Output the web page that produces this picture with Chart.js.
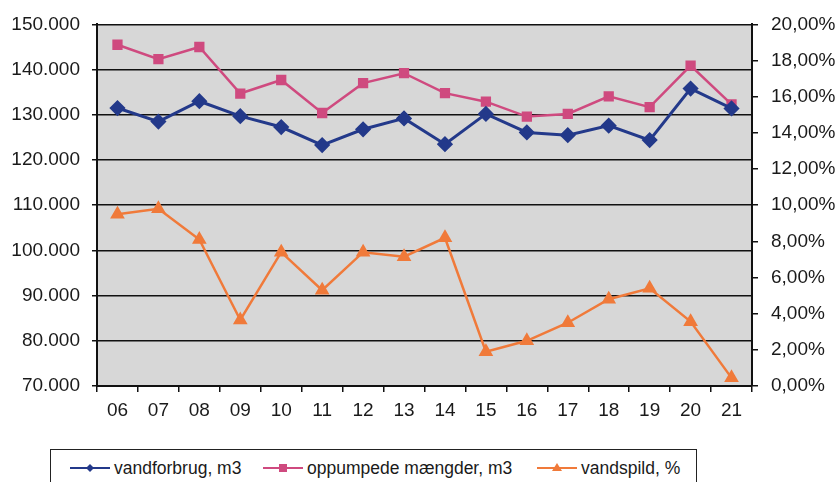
<!DOCTYPE html>
<html>
<head>
<meta charset="utf-8">
<script src="https://cdn.jsdelivr.net/npm/chart.js@4/dist/chart.umd.min.js"></script>
<style>
  html, body { margin: 0; padding: 0; background: #ffffff; }
  #wrap { position: relative; width: 840px; height: 482px; overflow: hidden; }
  #legend {
    position: absolute; left: 50px; top: 449px; width: 647px; height: 50px;
    border: 1px solid #222; box-sizing: border-box; background: #fff;
    font-family: "Liberation Sans", Arial, sans-serif; font-size: 17.5px; color: #1a1a1a;
  }
  .item { position: absolute; top: 7px; height: 22px; display: flex; align-items: center; white-space: nowrap; }
  .item svg { margin-right: 4px; }
</style>
</head>
<body>
<div id="wrap">
  <canvas id="c" width="840" height="482"></canvas>
  <div id="legend"></div>
</div>
<script>
// ---- data ----
const categories = ["06","07","08","09","10","11","12","13","14","15","16","17","18","19","20","21"];
const vandforbrug = [131500,128500,133000,129700,127300,123300,126800,129200,123500,130200,126100,125500,127600,124400,135800,131400];
const oppumpede   = [145500,142300,145000,134700,137700,130400,137000,139200,134800,132900,129600,130200,134100,131700,140900,132300];
const vandspild   = [9.5,9.8,8.1,3.65,7.4,5.3,7.4,7.15,8.2,1.9,2.5,3.5,4.8,5.4,3.56,0.45];
const seriesNames = ["vandforbrug, m3","oppumpede mængder, m3","vandspild, %"];
const leftTicks  = { min: 70000, max: 150000, step: 10000 };
const rightTicks = { min: 0, max: 20, step: 2 };

const colBlue = "#23398a", colPink = "#cf4a7f", colOrange = "#f07a3a";
const fontFam = "'Liberation Sans', Arial, sans-serif";
const txt = "#1a1a1a";

const bgPlugin = {
  id: "plotBg",
  beforeDraw(chart) {
    const a = chart.chartArea, ctx = chart.ctx;
    ctx.save();
    ctx.fillStyle = "#d7d7d7";
    ctx.fillRect(a.left, a.top, a.right - a.left, a.bottom - a.top);
    ctx.restore();
  }
};

function fmtThousands(v) {
  return Math.round(v).toString().replace(/\B(?=(\d{3})+(?!\d))/g, ".");
}

new Chart(document.getElementById("c"), {
  type: "line",
  data: {
    labels: categories,
    datasets: [
      { label: seriesNames[0], data: vandforbrug, yAxisID: "y", borderColor: colBlue, backgroundColor: colBlue,
        borderWidth: 3, pointStyle: "rectRot", pointRadius: 6, tension: 0 },
      { label: seriesNames[1], data: oppumpede, yAxisID: "y", borderColor: colPink, backgroundColor: colPink,
        borderWidth: 2.5, pointStyle: "rect", pointRadius: 5.5, tension: 0 },
      { label: seriesNames[2], data: vandspild, yAxisID: "y1", borderColor: colOrange, backgroundColor: colOrange,
        borderWidth: 2.5, pointStyle: "triangle", pointRadius: 6, tension: 0 }
    ]
  },
  options: {
    responsive: false,
    animation: false,
    layout: { padding: { top: 22, bottom: 0, left: 0, right: 0 } },
    plugins: { legend: { display: false }, tooltip: { enabled: false } },
    scales: {
      x: {
        offset: true,
        grid: { offset: true, drawOnChartArea: false, tickLength: 6, color: "#111", lineWidth: 1.5 },
        border: { color: "#111", width: 2 },
        ticks: { color: txt, font: { family: fontFam, size: 19 }, padding: 7, maxRotation: 0 },
        afterFit(s) { s.height = 96; }
      },
      y: {
        position: "left",
        min: leftTicks.min, max: leftTicks.max,
        ticks: { stepSize: leftTicks.step, color: txt, font: { family: fontFam, size: 19 }, padding: 12,
                 callback: v => fmtThousands(v) },
        grid: { color: "#111", lineWidth: 1.5, tickLength: 5 },
        border: { color: "#111", width: 2 },
        afterFit(s) { s.width = 97; }
      },
      y1: {
        position: "right",
        min: rightTicks.min, max: rightTicks.max,
        ticks: { stepSize: rightTicks.step, color: txt, font: { family: fontFam, size: 19 }, padding: 13,
                 callback: v => v.toFixed(2).replace(".", ",") + "%" },
        grid: { drawOnChartArea: false, color: "#111", lineWidth: 1.5, tickLength: 6 },
        border: { color: "#111", width: 2 },
        afterFit(s) { s.width = 88; }
      }
    }
  },
  plugins: [bgPlugin]
});

// ---- HTML legend ----
const legendItems = [
  { name: seriesNames[0], color: colBlue, marker: "diamond", left: 19 },
  { name: seriesNames[1], color: colPink, marker: "square", left: 212 },
  { name: seriesNames[2], color: colOrange, marker: "triangle", left: 486 }
];
const leg = document.getElementById("legend");
legendItems.forEach(it => {
  const d = document.createElement("div");
  d.className = "item";
  d.style.left = it.left + "px";
  let m = "";
  if (it.marker === "diamond") m = `<polygon points="20,6 24,10 20,14 16,10" fill="${it.color}"/>`;
  if (it.marker === "square") m = `<rect x="16" y="6" width="8" height="8" fill="${it.color}"/>`;
  if (it.marker === "triangle") m = `<polygon points="20,5 25,13 15,13" fill="${it.color}"/>`;
  d.innerHTML = `<svg width="40" height="20"><line x1="0" y1="10" x2="40" y2="10" stroke="${it.color}" stroke-width="2"/>${m}</svg><span>${it.name}</span>`;
  leg.appendChild(d);
});
</script>
</body>
</html>
